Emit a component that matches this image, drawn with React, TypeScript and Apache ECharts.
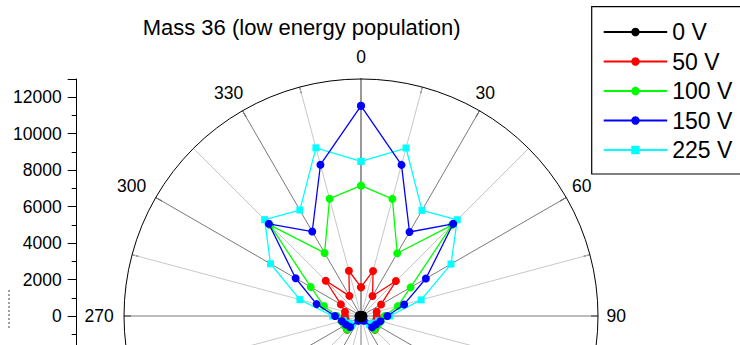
import React, { useEffect, useRef } from 'react';
import * as echarts from 'echarts';

// Emission angle (degrees, 0 = up, clockwise)
const angles = [0, 15, 30, 45, 60, 75, 90, 105, 120, 135, 150, 165, 180, 195, 210, 225, 240, 255, 270, 285, 300, 315, 330, 345];

// Counts per angle for each bias voltage
const counts0V = [10, 20, 40, 70, 100, 120, 135, 130, 120, 120, 110, 100, 95, 100, 110, 120, 120, 130, 135, 120, 100, 70, 40, 20];
const counts50V = [1580, 2560, 1265, 2710, 1270, 890, 860, 860, 920, 1075, 250, 200, 150, 200, 250, 1075, 920, 860, 880, 910, 1275, 2735, 1275, 2570];
const counts100V = [7150, 6650, 3975, 7050, 3140, 2090, 1300, 1120, 1050, 1050, 250, 200, 150, 200, 250, 1050, 1050, 1120, 1330, 2105, 3185, 7050, 3995, 6660];
const counts150V = [11530, 8580, 5320, 7150, 4110, 2450, 1450, 1100, 940, 870, 300, 200, 150, 200, 300, 850, 950, 1080, 1430, 2520, 4140, 7150, 5350, 8590];
const counts225V = [8480, 9540, 6690, 7465, 5700, 3415, 1575, 1000, 770, 670, 300, 200, 150, 200, 300, 720, 770, 1000, 1560, 3470, 5730, 7475, 6710, 9550];

const seriesNames = ['0 V', '50 V', '100 V', '150 V', '225 V'];

const RADIUS_MAX = 13000;
const FONT = '"Liberation Sans", Arial, sans-serif';

// Per-label padding for angle tick labels so they sit centred outside the rim
const anglePad: Record<number, number[]> = {
  0: [0, 0, 21.5, 0],
  30: [0, 0, 16, 0],
  60: [0, 0, 6.25, 12.7],
  90: [0, 0, 0, 16.6],
  270: [0, 18.2, 0, 0],
  300: [0, 16.5, 6.25, 0],
  330: [0, 3.3, 16, 0],
};

function toPolar(values: number[]) {
  const pts = values.map((r, i) => [r, angles[i]]);
  pts.push([values[0], 360]);
  return pts;
}

export default function App() {
  const ref = useRef<HTMLDivElement>(null);

  useEffect(() => {
    if (!ref.current) return;
    const chart = echarts.init(ref.current, null, { renderer: 'svg' });

    const rich: Record<string, any> = {};
    Object.keys(anglePad).forEach((k) => {
      rich['a' + k] = { fontSize: 17.5, fontFamily: FONT, color: '#000', padding: anglePad[+k] };
    });

    const mk = (name: string, values: number[], color: string, symbol: string, size: number, z: number) => ({
      name,
      type: 'line',
      coordinateSystem: 'polar',
      polarIndex: 0,
      data: toPolar(values),
      symbol,
      symbolSize: size,
      showSymbol: true,
      showAllSymbol: true,
      lineStyle: { color, width: 1.3 },
      itemStyle: { color },
      emphasis: { disabled: true },
      z,
    });

    chart.setOption({
      animation: false,
      backgroundColor: '#fff',
      textStyle: { fontFamily: FONT },
      title: {
        text: 'Mass 36 (low energy population)',
        left: 142.7,
        top: 16.7,
        padding: 0,
        textStyle: { fontSize: 22, fontWeight: 'normal', color: '#000', fontFamily: FONT },
      },
      legend: {
        data: seriesNames,
        orient: 'vertical',
        left: 591.7,
        top: 6.7,
        padding: [13.8, 12, 12.5, 11],
        itemWidth: 63.5,
        itemHeight: 10.6,
        itemGap: 6.5,
        borderColor: '#000',
        borderWidth: 1.2,
        backgroundColor: '#fff',
        textStyle: { fontSize: 23, lineHeight: 23, color: '#000', fontFamily: FONT },
      },
      polar: { center: [361, 316], radius: 237 },
      angleAxis: {
        type: 'value',
        min: 0,
        max: 360,
        interval: 15,
        startAngle: 90,
        clockwise: true,
        axisLine: { show: true, lineStyle: { color: '#000', width: 1 } },
        axisTick: { show: true, inside: true, length: 7, lineStyle: { color: '#000', width: 1 } },
        splitLine: { show: true, lineStyle: { color: ['#7a7a7a', '#c8c8c8'], width: 1 } },
        axisLabel: {
          margin: -8,
          fontSize: 17.5,
          color: '#000',
          formatter: (v: number) => (anglePad[v] ? `{a${v}|${v}}` : ''),
          rich,
        },
      },
      radiusAxis: {
        type: 'value',
        min: 0,
        max: RADIUS_MAX,
        axisLine: { show: true, lineStyle: { color: '#999', width: 2 } },
        axisTick: { show: false },
        axisLabel: { show: false },
        splitLine: { show: false },
      },
      grid: {
        left: 76.7,
        top: 79,
        width: 1,
        height: 455.8,
        show: false,
        containLabel: false,
        outerBoundsMode: 'none',
      },
      xAxis: { type: 'value', show: false, min: 0, max: 1 },
      yAxis: {
        type: 'value',
        min: -12000,
        max: RADIUS_MAX,
        interval: 2000,
        axisLine: { show: true, lineStyle: { color: '#000', width: 1 } },
        axisTick: { show: true, inside: false, length: 9, lineStyle: { color: '#000', width: 1 } },
        minorTick: { show: true, splitNumber: 2, length: 5, lineStyle: { color: '#000', width: 1 } },
        splitLine: { show: false },
        axisLabel: {
          margin: 15,
          fontSize: 17.5,
          color: '#000',
          fontFamily: FONT,
          formatter: (v: number) => (v === RADIUS_MAX || v < 0 ? '' : String(v)),
        },
      },
      graphic: [
        {
          type: 'line',
          shape: { x1: 9, y1: 290, x2: 9, y2: 328 },
          style: { stroke: '#444', lineWidth: 1, lineDash: [2, 2] },
        },
      ],
      series: [
        mk('50 V', counts50V, '#ff0000', 'circle', 8, 3),
        mk('100 V', counts100V, '#00ff00', 'circle', 8, 4),
        mk('225 V', counts225V, '#00ffff', 'rect', 7, 5),
        mk('150 V', counts150V, '#0000ff', 'circle', 8, 6),
        mk('0 V', counts0V, '#000000', 'circle', 8, 7),
      ],
    });

    return () => chart.dispose();
  }, []);

  return (
    <div
      ref={ref}
      style={{ position: 'fixed', left: 0, top: 0, width: 740, height: 345, background: '#fff' }}
    />
  );
}
